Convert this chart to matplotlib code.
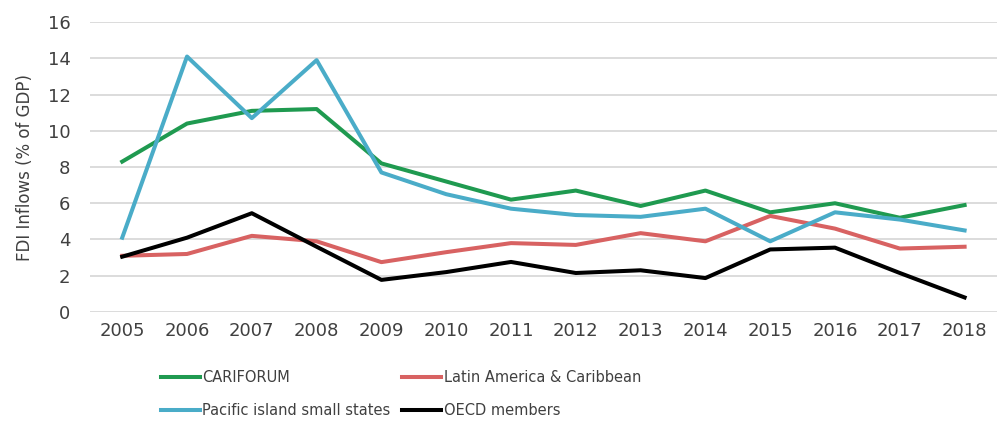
import matplotlib
matplotlib.use("Agg")
import matplotlib.pyplot as plt

years = ["2005", "2006", "2007", "2008", "2009", "2010", "2011",
         "2012", "2013", "2014", "2015", "2016", "2017", "2018"]
cariforum = [8.3, 10.4, 11.1, 11.2, 8.2, 7.2, 6.2, 6.7, 5.85, 6.7, 5.5, 6.0, 5.2, 5.9]
latam = [3.1, 3.2, 4.2, 3.9, 2.75, 3.3, 3.8, 3.7, 4.35, 3.9, 5.3, 4.6, 3.5, 3.6]
pacific = [4.1, 14.1, 10.7, 13.9, 7.7, 6.5, 5.7, 5.35, 5.25, 5.7, 3.9, 5.5, 5.1, 4.5]
oecd = [3.05, 4.1, 5.45, 3.6, 1.77, 2.2, 2.76, 2.15, 2.3, 1.87, 3.45, 3.55, 2.15, 0.8]
yticks = [0, 2, 4, 6, 8, 10, 12, 14, 16]

plt.rcParams['font.family'] = ['DejaVu Sans']
fig = plt.figure(figsize=(9.98, 4.25), dpi=100)
ax = fig.add_axes([0.090, 0.266, 0.909, 0.682])

x = list(range(len(years)))
lw = 2.9
ax.plot(x, cariforum, color="#1f9a50", lw=lw, label="CARIFORUM")
ax.plot(x, latam, color="#d86262", lw=lw, label="Latin America & Caribbean")
ax.plot(x, pacific, color="#4aacc8", lw=lw, label="Pacific island small states")
ax.plot(x, oecd, color="#000000", lw=lw, label="OECD members")

ax.set_xlim(-0.5, len(years) - 0.5)
ax.set_ylim(0, 16)
ax.set_yticks(yticks)
ax.set_xticks(x)
ax.set_xticklabels(years)
ax.grid(axis="y", color="#d9d9d9", lw=1.3)
ax.set_axisbelow(True)
for s in ax.spines.values():
    s.set_visible(False)
ax.tick_params(length=0, labelsize=13, colors="#404040")
ax.tick_params(axis="x", pad=7)
ax.tick_params(axis="y", pad=14)
ax.set_ylabel("FDI Inflows (% of GDP)", fontsize=12, color="#404040", labelpad=10)

h, l = ax.get_legend_handles_labels()
order = [0, 2, 1, 3]
fig.legend([h[i] for i in order], [l[i] for i in order], ncol=2,
           loc="upper left", bbox_to_anchor=(0.155, 0.142), frameon=False,
           fontsize=10.5, handlelength=2.7, handletextpad=0.15,
           columnspacing=0.8, labelspacing=1.2, borderaxespad=0,
           labelcolor="#404040")

fig.savefig("out.png", dpi=100)
